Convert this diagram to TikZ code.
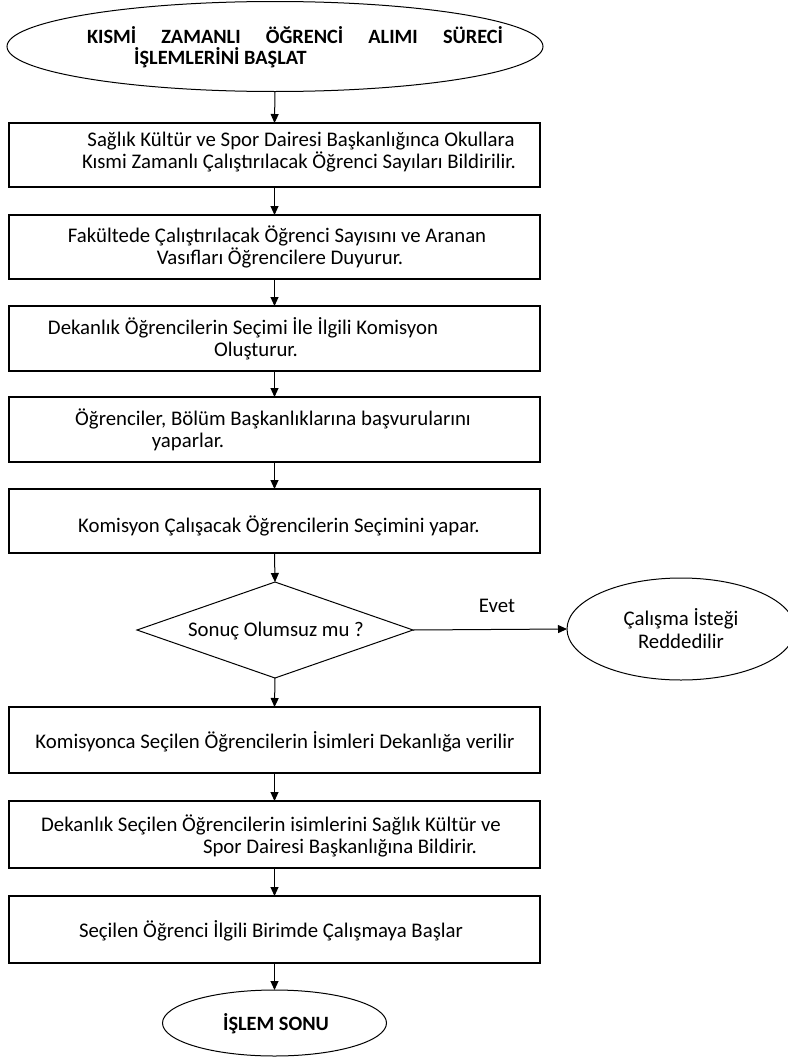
\documentclass[tikz,border=0pt]{standalone}
\usepackage{fontspec}
\setmainfont{Carlito}
\usetikzlibrary{shapes.geometric,arrows.meta}
\begin{document}
\begin{tikzpicture}[x=1pt,y=-1pt,
  stepbox/.style={draw=black,line width=1.1pt,rectangle,inner sep=0,outer sep=0,minimum width=531pt},
  ovalbox/.style={draw=black,line width=1pt,ellipse,inner sep=0,outer sep=0},
  decbox/.style={draw=black,line width=1pt,diamond,inner sep=0,outer sep=0,minimum width=276pt,minimum height=96pt},
  txt/.style={font=\fontsize{20.8}{24}\selectfont,inner sep=0,anchor=base},
  btxt/.style={font=\fontsize{20.3}{24}\selectfont\bfseries,inner sep=0,anchor=base},
  arr/.style={draw=black,line width=1pt,-{Triangle[length=9pt,width=8pt]}}]
\useasboundingbox (0,0) rectangle (787,1060);

% start ellipse
\node[ovalbox,minimum width=536pt,minimum height=90pt] (start) at (275,46.5) {};
\node[btxt] (s1) at (295,43) {\makebox[416pt][s]{KISMİ\hfill ZAMANLI\hfill ÖĞRENCİ\hfill ALIMI\hfill SÜRECİ}};
\node[btxt,anchor=base west] (s2) at (134,64) {İŞLEMLERİNİ BAŞLAT};

% boxes
\node[stepbox,minimum height=64pt] (b1) at (274.5,155) {};
\node[txt] (b1a) at (301,146.5) {Sağlık Kültür ve Spor Dairesi Başkanlığınca Okullara};
\node[txt] (b1b) at (299,168.5) {Kısmi Zamanlı Çalıştırılacak Öğrenci Sayıları Bildirilir.};

\node[stepbox,minimum height=64pt] (b2) at (274.5,247) {};
\node[txt] (b2a) at (277,242.5) {Fakültede Çalıştırılacak Öğrenci Sayısını ve Aranan};
\node[txt] (b2b) at (280,264.5) {Vasıfları Öğrencilere Duyurur.};

\node[stepbox,minimum height=65pt] (b3) at (274.5,338.5) {};
\node[txt] (b3a) at (243,334.5) {Dekanlık Öğrencilerin Seçimi İle İlgili Komisyon};
\node[txt] (b3b) at (256,356.5) {Oluşturur.};

\node[stepbox,minimum height=65pt] (b4) at (274.5,429.5) {};
\node[txt] (b4a) at (273,425.5) {Öğrenciler, Bölüm Başkanlıklarına başvurularını};
\node[txt] (b4b) at (188,447.5) {yaparlar.};

\node[stepbox,minimum height=64pt] (b5) at (274.5,521) {};
\node[txt] (b5a) at (279,532.5) {Komisyon Çalışacak Öğrencilerin Seçimini yapar.};

% decision
\node[decbox] (dec) at (275,630) {};
\node[txt] (dect) at (276,636.5) {Sonuç Olumsuz mu ?};

\node[ovalbox,minimum width=228pt,minimum height=102pt] (rej) at (681,629) {};
\node[txt] (rej1) at (681,625.5) {Çalışma İsteği};
\node[txt] (rej2) at (681,648.5) {Reddedilir};

\node[stepbox,minimum height=66pt] (b6) at (274.5,740) {};
\node[txt] (b6a) at (275,748.5) {Komisyonca Seçilen Öğrencilerin İsimleri Dekanlığa verilir};

\node[stepbox,minimum height=67pt] (b7) at (274.5,834.5) {};
\node[txt] (b7a) at (271,831.5) {Dekanlık Seçilen Öğrencilerin isimlerini Sağlık Kültür ve};
\node[txt] (b7b) at (340,853.5) {Spor Dairesi Başkanlığına Bildirir.};

\node[stepbox,minimum height=67pt] (b8) at (274.5,929.5) {};
\node[txt] (b8a) at (271,937.5) {Seçilen Öğrenci İlgili Birimde Çalışmaya Başlar};

\node[ovalbox,minimum width=224pt,minimum height=66pt] (end) at (274.5,1023) {};
\node[btxt] (endt) at (276,1030) {İŞLEM SONU};

% connectors
\draw[arr] (start.south) -- (b1.north);
\draw[arr] (b1.south) -- (b2.north);
\draw[arr] (b2.south) -- (b3.north);
\draw[arr] (b3.south) -- (b4.north);
\draw[arr] (b4.south) -- (b5.north);
\draw[arr] (b5.south) -- (dec.north);
\draw[arr] (dec.east) -- (rej.west);
\node[txt] (evet) at (497,612.5) {Evet};
\draw[arr] (dec.south) -- (b6.north);
\draw[arr] (b6.south) -- (b7.north);
\draw[arr] (b7.south) -- (b8.north);
\draw[arr] (b8.south) -- (end.north);
\end{tikzpicture}
\end{document}
